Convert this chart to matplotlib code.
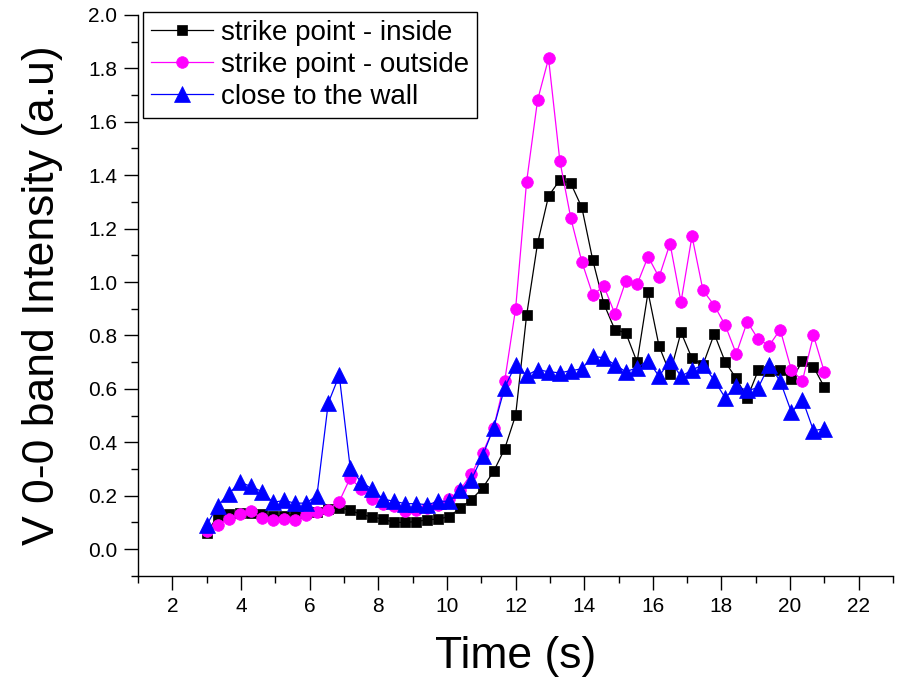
import matplotlib
matplotlib.use("Agg")
import matplotlib.pyplot as plt
from matplotlib.ticker import MultipleLocator

plt.rcParams['font.family'] = ['Liberation Sans', 'DejaVu Sans']

# ---------------------------------------------------------------------------
# Data (time in s, intensity in a.u.)
# ---------------------------------------------------------------------------
time_s = [3.00, 3.32, 3.64, 3.96, 4.29, 4.61, 4.93, 5.25, 5.57, 5.89,
          6.21, 6.54, 6.86, 7.18, 7.50, 7.82, 8.14, 8.46, 8.79, 9.11,
          9.43, 9.75, 10.07, 10.39, 10.71, 11.04, 11.36, 11.68, 12.00, 12.32,
          12.64, 12.96, 13.29, 13.61, 13.93, 14.25, 14.57, 14.89, 15.21, 15.54,
          15.86, 16.18, 16.50, 16.82, 17.14, 17.46, 17.79, 18.11, 18.43, 18.75,
          19.07, 19.39, 19.71, 20.04, 20.36, 20.68, 21.00]

inside = [0.060, 0.125, 0.130, 0.135, 0.135, 0.130, 0.125, 0.125, 0.130, 0.135,
          0.140, 0.150, 0.155, 0.145, 0.130, 0.120, 0.112, 0.100, 0.100, 0.103,
          0.110, 0.112, 0.122, 0.154, 0.185, 0.229, 0.291, 0.375, 0.501, 0.875,
          1.145, 1.322, 1.382, 1.369, 1.279, 1.081, 0.919, 0.822, 0.810, 0.700,
          0.962, 0.760, 0.657, 0.812, 0.714, 0.690, 0.806, 0.700, 0.639, 0.566,
          0.669, 0.666, 0.672, 0.635, 0.703, 0.682, 0.606]

outside = [0.066, 0.091, 0.112, 0.132, 0.141, 0.116, 0.110, 0.114, 0.110, 0.129,
           0.137, 0.147, 0.178, 0.266, 0.225, 0.189, 0.170, 0.160, 0.141, 0.147,
           0.154, 0.166, 0.187, 0.222, 0.282, 0.360, 0.454, 0.628, 0.900, 1.375,
           1.681, 1.837, 1.453, 1.238, 1.076, 0.951, 0.985, 0.882, 1.003, 0.991,
           1.095, 1.018, 1.144, 0.925, 1.172, 0.969, 0.912, 0.838, 0.731, 0.851,
           0.786, 0.762, 0.822, 0.669, 0.631, 0.800, 0.662]

wall = [0.091, 0.163, 0.207, 0.250, 0.235, 0.215, 0.175, 0.182, 0.172, 0.172,
        0.200, 0.547, 0.650, 0.304, 0.250, 0.225, 0.187, 0.179, 0.170, 0.170,
        0.166, 0.179, 0.179, 0.220, 0.260, 0.350, 0.454, 0.604, 0.691, 0.650,
        0.672, 0.664, 0.660, 0.668, 0.675, 0.722, 0.716, 0.691, 0.664, 0.679,
        0.706, 0.647, 0.706, 0.647, 0.670, 0.691, 0.632, 0.566, 0.610, 0.594,
        0.604, 0.689, 0.629, 0.512, 0.560, 0.444, 0.450]

SERIES = [
    ("strike point - inside",  inside,  '#000000', 's', 7.8),
    ("strike point - outside", outside, '#FF00FF', 'o', 8.4),
    ("close to the wall",      wall,    '#0000FF', '^', 11.0),
]

# ---------------------------------------------------------------------------
# Figure
# ---------------------------------------------------------------------------
fig = plt.figure(figsize=(9.03, 6.79), dpi=100)
ax = fig.add_axes([0.153, 0.152, 0.836, 0.826])

for label, vals, col, mk, ms in SERIES:
    ax.plot(time_s, vals, color=col, lw=0.9, marker=mk, ms=ms,
            mec=col, mew=0.5, label=label)

ax.set_xlim(1, 23)
ax.set_ylim(-0.1, 2.0)
ax.xaxis.set_major_locator(MultipleLocator(2))
ax.xaxis.set_minor_locator(MultipleLocator(1))
ax.yaxis.set_major_locator(MultipleLocator(0.2))
ax.yaxis.set_minor_locator(MultipleLocator(0.1))
ax.set_xticks(range(2, 23, 2))
ax.set_yticks([0.0, 0.2, 0.4, 0.6, 0.8, 1.0, 1.2, 1.4, 1.6, 1.8, 2.0])
ax.set_yticklabels([f"{v:.1f}" for v in ax.get_yticks()])

for side in ('top', 'right'):
    ax.spines[side].set_visible(False)
for side in ('left', 'bottom'):
    ax.spines[side].set_linewidth(1.0)

ax.tick_params(which='major', direction='out', length=10, width=1.0,
               labelsize=15, pad=5)
ax.tick_params(which='minor', direction='out', length=5, width=1.0)

ax.set_xlabel("Time (s)", fontsize=32)
ax.set_ylabel("V 0-0 band Intensity (a.u)", fontsize=32)
ax.xaxis.set_label_coords(0.5, -0.108)
ax.yaxis.set_label_coords(-0.100, 0.5)

leg = ax.legend(loc='upper left', bbox_to_anchor=(0.0066, 1.006),
                borderaxespad=0, fontsize=20, frameon=True, fancybox=False,
                framealpha=1, edgecolor='black', handlelength=2.2,
                handletextpad=0.3, labelspacing=0.22, borderpad=0.3)
leg.get_frame().set_linewidth(1.0)

fig.savefig("out.png", dpi=100)
